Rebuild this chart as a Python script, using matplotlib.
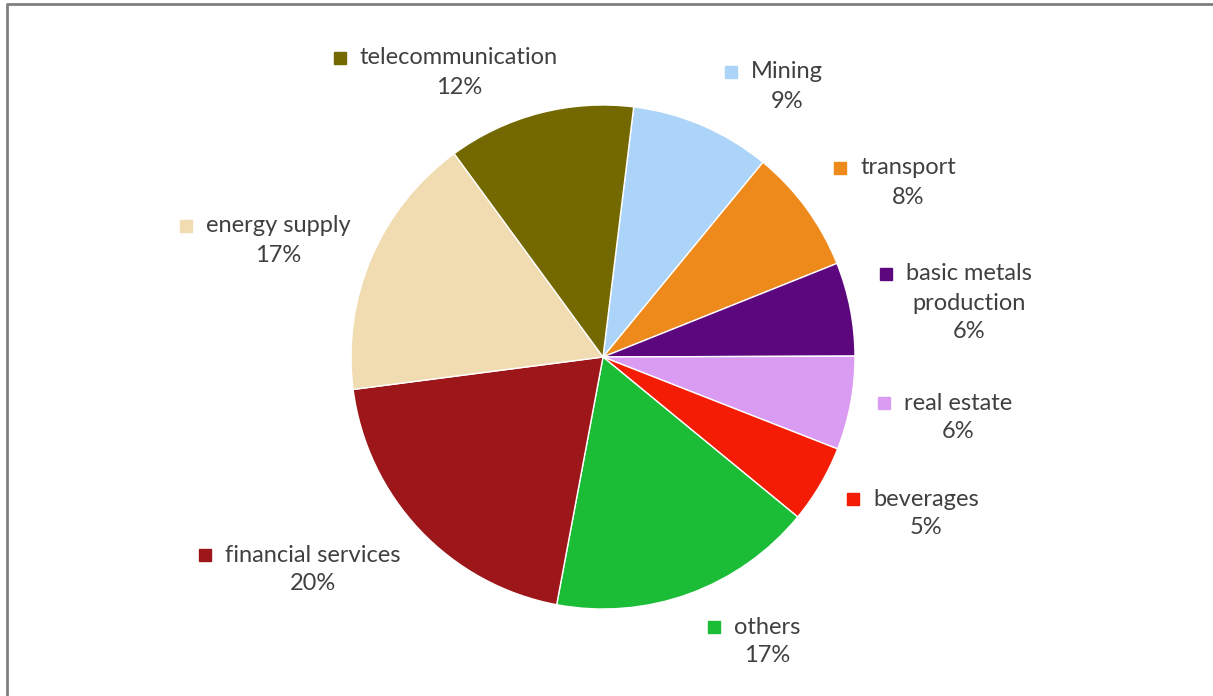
import matplotlib
matplotlib.use("Agg")
import matplotlib.pyplot as plt

# Data (clockwise from the top, first slice starts a little right of 12 o'clock)
sectors = ["Mining", "transport", "basic metals\nproduction", "real estate",
           "beverages", "others", "financial services", "energy supply",
           "telecommunication"]
shares = [9, 8, 6, 6, 5, 17, 20, 17, 12]
colors = ["#acd4f8", "#ee891b", "#5d077e", "#da9cf3", "#f51c05",
          "#1bbc36", "#9d1619", "#f1dbb0", "#736900"]

# Label layout in pixel coordinates (centre of first text line)
label_pos = [(787, 72), (908, 168), (969, 274), (958, 403), (926, 499),
             (767, 627), (313, 555), (278, 226), (459, 58)]

W, H = 1213, 696
fig = plt.figure(figsize=(W / 100, H / 100), dpi=100)
ax = fig.add_axes([0, 0, 1, 1])

# Pie: centre (603, 357) px from top, radius 252 px
ax.pie(shares, colors=colors, radius=252, center=(603, H - 357),
       startangle=83, counterclock=False, frame=True,
       wedgeprops=dict(edgecolor="white", linewidth=1.0))
ax.set_xlim(0, W)
ax.set_ylim(0, H)
ax.set_aspect("equal")
ax.axis("off")

# Frame lines (top and left only)
ax.plot([6, W], [H - 4, H - 4], color="#808080", lw=2, solid_capstyle="butt")
ax.plot([7, 7], [0, H - 4], color="#808080", lw=2, solid_capstyle="butt")

font = dict(family=["Lato", "DejaVu Sans"], fontsize=17, color="#404040")
line_h = 29

fig.canvas.draw()
renderer = fig.canvas.get_renderer()
inv = ax.transData.inverted()

for name, val, col, (x, y) in zip(sectors, shares, colors, label_pos):
    lines = name.split("\n") + ["%d%%" % val]
    first = None
    for i, ln in enumerate(lines):
        t = ax.text(x, H - (y + i * line_h), ln, ha="center", va="center", **font)
        if first is None:
            first = t
    bb = first.get_window_extent(renderer=renderer)
    left = inv.transform((bb.x0, bb.y0))[0]
    ax.plot(left - 20, H - y, marker="s", ms=8, color=col, mec=col, ls="none")

fig.savefig("out.png", dpi=100, facecolor="white")
